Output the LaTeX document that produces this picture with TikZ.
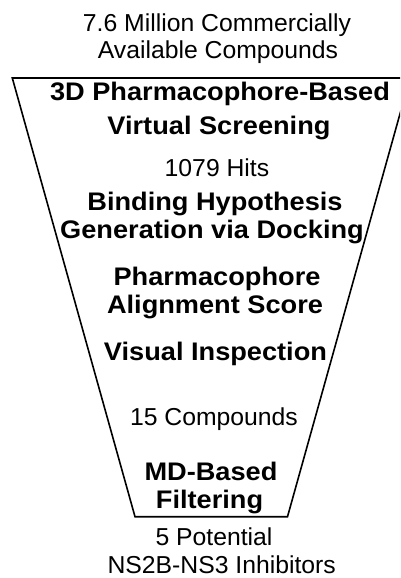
\documentclass[tikz,border=0pt]{standalone}
\usepackage{fontspec}
\setmainfont{Liberation Sans}[FakeStretch=1.01,BoldFont={Liberation Sans Bold},BoldFeatures={FakeStretch=1.07}]
\begin{document}
\begin{tikzpicture}[x=1pt,y=-1pt,
  lbl/.style={anchor=base,inner sep=0pt,font=\fontsize{24.5}{28}\selectfont},
  blbl/.style={anchor=base,inner sep=0pt,font=\fontsize{25.4}{28}\selectfont\bfseries},
  funnel/.style={draw=black,line width=1.6pt,line join=miter}]
\useasboundingbox (0,0) rectangle (400,578);
\begin{scope}
\clip (0,0) rectangle (400,578);
\coordinate (tl) at (12.3,78);
\coordinate (tr) at (410,78);
\coordinate (br) at (287.5,516.7);
\coordinate (bl) at (135,516.7);
\draw[funnel] (tl) -- (tr) -- (br) -- (bl) -- cycle;
\end{scope}
\node[lbl]  (t1)  at (217,31.7)  {7.6 Million Commercially};
\node[lbl]  (t2)  at (218,59)    {Available Compounds};
\node[blbl] (t3)  at (220,100.7) {3D Pharmacophore-Based};
\node[blbl] (t4)  at (219,134)   {Virtual Screening};
\node[lbl]  (t5)  at (217,176.5) {1079 Hits};
\node[blbl] (t6)  at (215,210)   {Binding Hypothesis};
\node[blbl] (t7)  at (212,238.3) {Generation via Docking};
\node[blbl] (t8)  at (217,285)   {Pharmacophore};
\node[blbl] (t9)  at (215,313)   {Alignment Score};
\node[blbl] (t10) at (215.5,360) {Visual Inspection};
\node[lbl]  (t11) at (214,425)   {15 Compounds};
\node[blbl] (t12) at (211,480)   {MD-Based};
\node[blbl] (t13) at (209.5,508) {Filtering};
\node[lbl]  (t14) at (214,545)   {5 Potential};
\node[lbl]  (t15) at (221.7,573) {NS2B-NS3 Inhibitors};
\end{tikzpicture}
\end{document}
